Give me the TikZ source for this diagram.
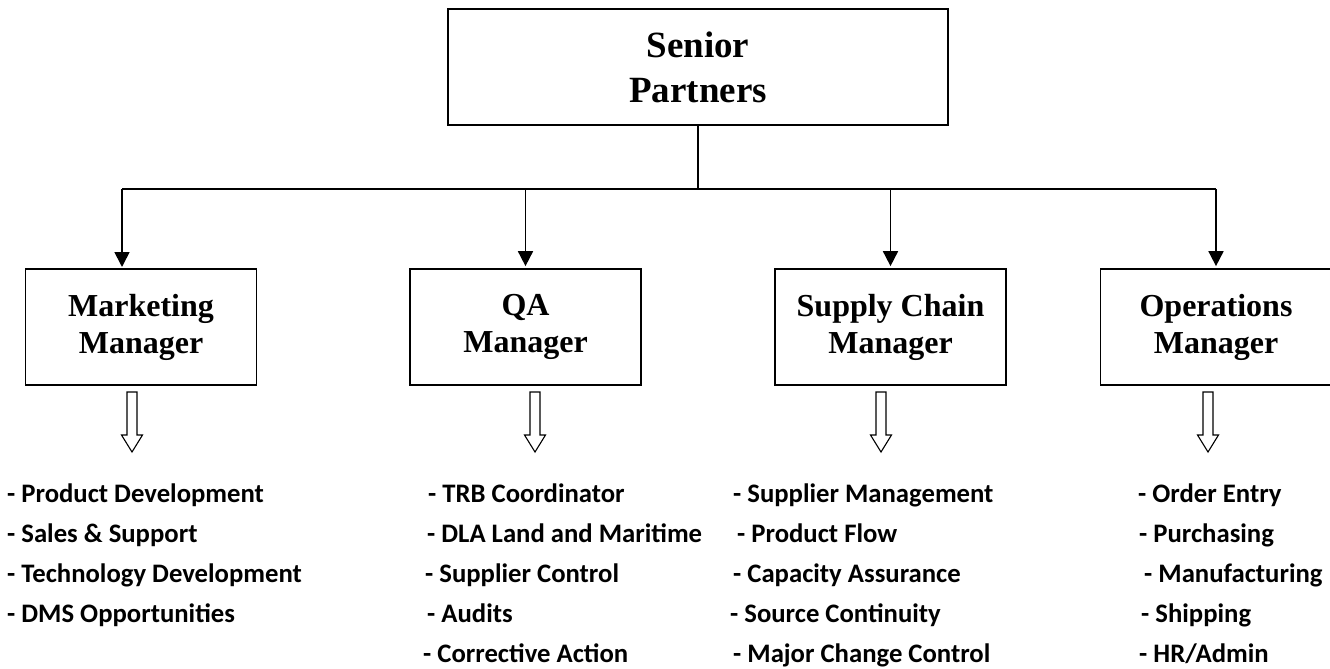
\documentclass[tikz,border=0pt]{standalone}
\usepackage{fontspec}
\setmainfont{Liberation Serif}
\newfontfamily\listfont{Carlito}
\usetikzlibrary{arrows.meta}
\usetikzlibrary{positioning}

\tikzset{
  box/.style={draw, line width=1.7pt, align=center, inner sep=0pt,
    minimum width=231pt, minimum height=116pt,
    font=\bfseries\fontsize{32}{37}\selectfont},
  topbox/.style={box, minimum width=500pt,
    font=\bfseries\fontsize{37}{45}\selectfont},
  wire/.style={line width=1.7pt},
  feed/.style={wire, shorten >=2pt, -{Triangle[width=15pt,length=15pt]}},
  hollow/.style={draw, line width=1.1pt, line join=miter},
  item/.style={anchor=base west, inner sep=0pt,
    font=\listfont\bfseries\fontsize{26.7}{30}\selectfont}
}

\begin{document}
\begin{tikzpicture}[x=1pt,y=-1pt]
\useasboundingbox (0,0) rectangle (1330,669);

% boxes
\node[topbox] (sp) at (698,67) {Senior\\Partners};
\node[box] (mkt) at (141,327) {Marketing\\Manager};
\node[box] (qa)  at (525.5,327) {QA\\Manager};
\node[box] (scm) at (890.5,327) {Supply Chain\\Manager};
\node[box] (ops) at (1216,327) {Operations\\Manager};

% tree lines
\coordinate (bus) at (698,189);
\coordinate (mkttop) at (122,269);
\draw[wire] (sp.south) -- (bus);
\draw[wire] (mkttop |- bus) -- (ops.north |- bus);
\foreach \n in {mkttop, qa.north, scm.north, ops.north}
  \draw[feed] (\n |- bus) -- (\n);

% hollow arrows
\foreach \x in {132,535,881,1208}
  \draw[hollow] (\x-5,392) -- (\x+5,392) -- (\x+5,435) -- (\x+10.5,435)
    -- (\x,452) -- (\x-10.5,435) -- (\x-5,435) -- cycle;

% duties
\foreach \t [count=\i] in {Product Development, Sales \& Support,
    Technology Development, DMS Opportunities}
  \node[item] (mkt\i) at (7,462+40*\i) {- \t};
\foreach \x/\t [count=\i] in {428/TRB Coordinator, 427/DLA Land and Maritime,
    425/Supplier Control, 427/Audits, 423/Corrective Action}
  \node[item] (qa\i) at (\x,462+40*\i) {- \t};
\foreach \x/\t [count=\i] in {733/Supplier Management, 737/Product Flow,
    733/Capacity Assurance, 730/Source Continuity, 733/Major Change Control}
  \node[item] (scm\i) at (\x,462+40*\i) {- \t};
\foreach \x/\t [count=\i] in {1138/Order Entry, 1139/Purchasing,
    1144/Manufacturing, 1141/Shipping, 1139/{HR/Admin}}
  \node[item] (ops\i) at (\x,462+40*\i) {- \t};
\end{tikzpicture}
\end{document}
